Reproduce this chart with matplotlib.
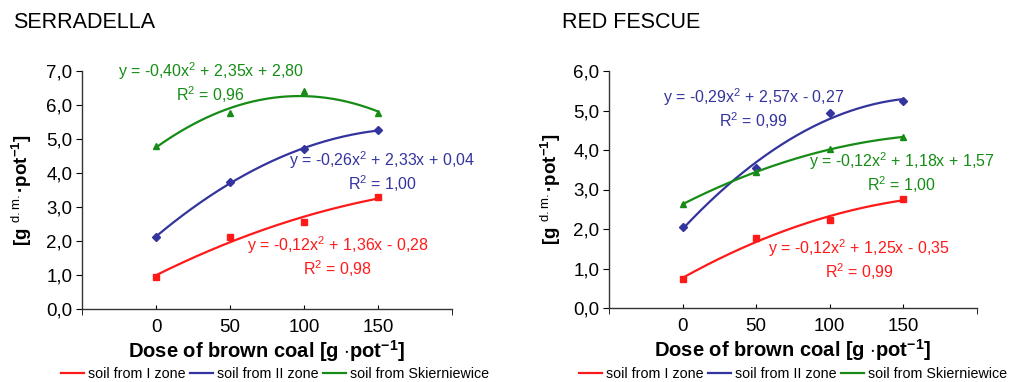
import numpy as np
import matplotlib
matplotlib.use("Agg")
import matplotlib.pyplot as plt
from matplotlib.ticker import FixedLocator, NullFormatter

plt.rcParams['font.family'] = ['Liberation Sans', 'DejaVu Sans']
plt.rcParams['mathtext.fontset'] = 'custom'
plt.rcParams['mathtext.rm'] = 'Liberation Sans'
plt.rcParams['mathtext.it'] = 'Liberation Sans'
plt.rcParams['mathtext.bf'] = 'Liberation Sans:bold'

# --- data ---
doses = [0, 50, 100, 150]
series_names = ['soil from I zone', 'soil from II zone', 'soil from Skierniewice']

serradella_zone1 = [0.94, 2.12, 2.56, 3.30]
serradella_zone2 = [2.12, 3.73, 4.70, 5.26]
serradella_skier = [4.80, 5.76, 6.41, 5.76]

fescue_zone1 = [0.73, 1.77, 2.23, 2.76]
fescue_zone2 = [2.05, 3.54, 4.94, 5.24]
fescue_skier = [2.63, 3.44, 4.02, 4.33]

serradella_eqs = ['y = -0,12x$^2$ + 1,36x - 0,28\nR$^2$ = 0,98',
                  'y = -0,26x$^2$ + 2,33x + 0,04\nR$^2$ = 1,00',
                  'y = -0,40x$^2$ + 2,35x + 2,80\nR$^2$ = 0,96']
fescue_eqs = ['y = -0,12x$^2$ + 1,25x - 0,35\nR$^2$ = 0,99',
              'y = -0,29x$^2$ + 2,57x - 0,27\nR$^2$ = 0,99',
              'y = -0,12x$^2$ + 1,18x + 1,57\nR$^2$ = 1,00']

colors = ['#ff1a1a', '#34349e', '#168c16']
markers = ['s', 'D', '^']
msizes = [5, 4, 4.5]

fig = plt.figure(figsize=(10.1, 3.82), dpi=100)


def draw_panel(rect, title, title_x, values, eqs, eq_pos, ymax, ylabel_x, legend_x):
    ax = fig.add_axes(rect)
    xs = np.array(doses, dtype=float)
    idx = np.arange(1, len(doses) + 1)
    fine_idx = np.linspace(1, len(doses), 200)
    fine_x = np.interp(fine_idx, idx, xs)
    handles = []
    for vals, eq, pos, c, m, ms in zip(values, eqs, eq_pos, colors, markers, msizes):
        # quadratic trendline fitted over the category index, like the spreadsheet did
        coef = np.polyfit(idx, vals, 2)
        ln, = ax.plot(fine_x, np.polyval(coef, fine_idx), color=c, lw=1.6)
        ax.plot(xs, vals, m, color=c, ms=ms, ls='none')
        handles.append(ln)
        ax.text(pos[0], pos[1], eq, color=c, fontsize=11.5, ha='center', va='center',
                linespacing=1.15)
    ax.set_xlim(-50, 200)
    ax.set_ylim(0, ymax)
    ax.set_yticks(np.arange(0, ymax + 0.01, 1.0))
    ax.set_yticklabels([f'{v:.1f}'.replace('.', ',') for v in np.arange(0, ymax + 0.01, 1.0)])
    ax.set_xticks(doses)
    ax.xaxis.set_minor_locator(FixedLocator([-50, 200]))
    ax.xaxis.set_minor_formatter(NullFormatter())
    ax.tick_params(axis='x', which='major', direction='in', length=3, labelsize=13.5, pad=7)
    ax.tick_params(axis='x', which='minor', direction='out', length=4)
    ax.tick_params(axis='y', direction='out', length=4, labelsize=13.5, pad=3)
    for s in ['top', 'right']:
        ax.spines[s].set_visible(False)
    for s in ['left', 'bottom']:
        ax.spines[s].set_color('#333333')
        ax.spines[s].set_linewidth(1.0)
    ax.set_xlabel('Dose of brown coal [g $\\cdot$pot$^{\\mathbf{-1}}$]',
                  fontsize=14.5, fontweight='bold', labelpad=2)
    fig.text(ylabel_x, rect[1] + rect[3] / 2, '[g $^{\\mathrm{d.m.}}$·pot$^{\\mathbf{-1}}$]',
             rotation=90, fontsize=13.5, fontweight='bold', ha='center', va='center')
    fig.text(title_x, 1 - 22 / 382, title, fontsize=15.5, ha='left', va='center')
    fig.legend(handles, series_names, loc='center',
               bbox_to_anchor=(legend_x, 1 - 374 / 382),
               ncol=3, frameon=False, fontsize=10.3, handlelength=1.6,
               handletextpad=0.3, columnspacing=0.3, borderpad=0)
    return ax


draw_panel([82 / 1010, 1 - 309 / 382, 370 / 1010, 238 / 382], 'SERRADELLA', 13 / 1010,
           [serradella_zone1, serradella_zone2, serradella_skier], serradella_eqs,
           [(123, 1.55), (153, 4.05), (37, 6.65)], 7.0, 22 / 1010, 275 / 1010)

draw_panel([609 / 1010, 1 - 308 / 382, 368 / 1010, 237 / 382], 'RED FESCUE', 562 / 1010,
           [fescue_zone1, fescue_zone2, fescue_skier], fescue_eqs,
           [(120, 1.22), (48, 5.04), (149, 3.43)], 6.0, 551 / 1010, 793 / 1010)

fig.savefig('out.png', dpi=100)
